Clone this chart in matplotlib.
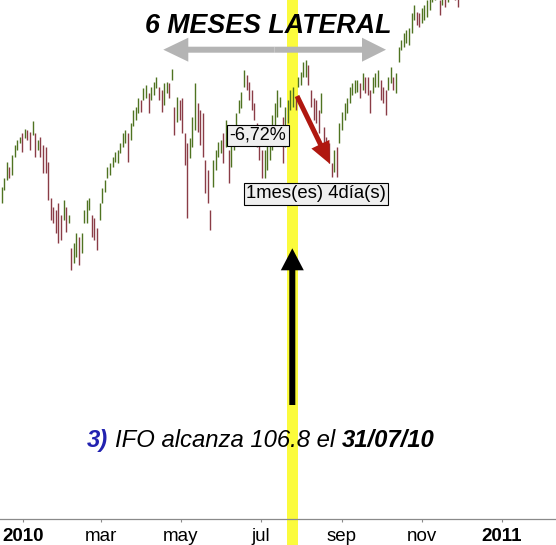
import matplotlib
matplotlib.use("Agg")
import matplotlib.pyplot as plt
from matplotlib.patches import FancyArrow
from matplotlib.transforms import Affine2D
import pandas as pd

W, H, DPI = 556, 545, 100

# bar ranges, mid-Dec 2009 to end of Nov 2010
highs = [
    5915, 5960, 6040, 6015, 6075, 6125, 6150, 6165, 6185, 6205,
    6200, 6190, 6245, 6185, 6150, 6165, 6125, 6115, 6040, 5860,
    5815, 5800, 5835, 5775, 5850, 5815, 5775, 5610, 5635, 5685,
    5665, 5685, 5800, 5850, 5860, 5775, 5760, 5710, 5835, 5910,
    5950, 6015, 6035, 6065, 6090, 6100, 6135, 6185, 6200, 6185,
    6235, 6300, 6315, 6360, 6350, 6410, 6425, 6385, 6415, 6440,
    6465, 6415, 6400, 6435, 6440, 6435, 6505, 6315, 6365, 6350,
    6360, 6185, 6135, 6160, 6265, 6435, 6335, 6300, 6285, 6050,
    6000, 5800, 6050, 6100, 6140, 6150, 6185, 6250, 6100, 6135,
    6185, 6285, 6350, 6390, 6500, 6475, 6440, 6400, 6335, 6235,
    6165, 6100, 6100, 6135, 6185, 6275, 6335, 6400, 6365, 6265,
    6315, 6350, 6400, 6415, 6365, 6465, 6490, 6540, 6550, 6525,
    6400, 6360, 6350, 6300, 6385, 6215, 6165, 6135, 6035, 6100,
    6115, 6235, 6290, 6335, 6360, 6415, 6435, 6450, 6450, 6435,
    6485, 6465, 6465, 6400, 6465, 6485, 6500, 6450, 6415, 6400,
    6465, 6515, 6465, 6485, 6615, 6650, 6685, 6700, 6710, 6785,
    6825, 6790, 6785, 6810, 6825, 6850, 6865, 6890, 6900, 6910,
    6850, 6875, 6865, 6890, 6910, 6910, 6900, 6880,
]
lows = [
    5835, 5900, 5950, 5960, 5975, 6065, 6100, 6135, 6090, 6160,
    6150, 6100, 6175, 6065, 6100, 6065, 5985, 5985, 5850, 5750,
    5735, 5685, 5635, 5650, 5750, 5690, 5735, 5500, 5535, 5565,
    5525, 5585, 5735, 5735, 5800, 5665, 5650, 5600, 5750, 5835,
    5890, 5960, 5975, 6015, 6040, 6035, 6085, 6115, 6135, 6040,
    6150, 6220, 6250, 6285, 6290, 6350, 6360, 6285, 6350, 6375,
    6410, 6350, 6290, 6325, 6385, 6360, 6450, 6175, 6240, 6250,
    6185, 6025, 5760, 6060, 6115, 6200, 6190, 6125, 6065, 5885,
    5835, 5700, 5915, 6000, 6065, 6085, 6035, 6115, 5935, 6015,
    6100, 6165, 6285, 6310, 6415, 6400, 6350, 6300, 6250, 6115,
    6050, 5960, 5960, 6000, 6050, 6100, 6150, 6265, 6315, 6035,
    6115, 6235, 6300, 6315, 6300, 6415, 6425, 6465, 6465, 6425,
    6315, 6250, 6235, 6185, 6285, 6115, 6085, 6035, 5965, 5990,
    5965, 6135, 6200, 6250, 6285, 6335, 6375, 6385, 6390, 6360,
    6400, 6385, 6375, 6285, 6385, 6415, 6415, 6350, 6335, 6275,
    6400, 6435, 6400, 6385, 6540, 6600, 6615, 6635, 6625, 6685,
    6750, 6725, 6715, 6735, 6750, 6765, 6800, 6840, 6850, 6860,
    6775, 6825, 6815, 6840, 6860, 6860, 6850, 6815,
]
dates = pd.date_range("2009-12-15 12:00", "2010-11-28 14:00", periods=len(highs))

tick_dates = ["2010-01-01", "2010-03-01", "2010-05-01", "2010-07-01",
              "2010-09-01", "2010-11-01", "2011-01-01"]
tick_labels = ["2010", "mar", "may", "jul", "sep", "nov", "2011"]

band_start, band_end = "2010-07-21 10:00", "2010-07-29 14:00"

UP = "#4f7321"
DOWN = "#8a3c46"

plt.rcParams["font.family"] = ["Liberation Sans", "DejaVu Sans"]

fig = plt.figure(figsize=(W / DPI, H / DPI), dpi=DPI, facecolor="white")
ax = fig.add_axes([0, (H - 519) / H, 1, 519 / H])
ax.set_facecolor("none")

mids = [(h + l) / 2 for h, l in zip(highs, lows)]
colors = [UP if i == 0 or mids[i] >= mids[i - 1] else DOWN for i in range(len(mids))]
ax.vlines(dates, lows, highs, colors=colors, linewidth=1.0, zorder=2)

ax.axvspan(pd.Timestamp(band_start), pd.Timestamp(band_end), ymin=-26 / 519, ymax=1,
           color="#fbfb3c", lw=0, clip_on=False, zorder=0)

ax.set_xlim(pd.Timestamp("2009-12-14 05:00"), pd.Timestamp("2011-02-11 10:00"))
ax.set_ylim(4255, 6850)

for s in ("top", "left", "right"):
    ax.spines[s].set_visible(False)
ax.spines["bottom"].set_color("#8a8a8a")
ax.spines["bottom"].set_linewidth(0.9)
ax.set_yticks([])
ax.set_xticks(pd.to_datetime(tick_dates))
ax.set_xticklabels(tick_labels)
ax.tick_params(axis="x", length=2.2, width=0.8, color="#8a8a8a", pad=4.3,
               labelsize=13.5, labelcolor="black")
for lbl in ax.get_xticklabels():
    if lbl.get_text().isdigit():
        lbl.set_fontweight("bold")

# annotations placed in image pixels (origin top-left)
px = Affine2D().scale(1 / DPI, -1 / DPI).translate(0, H / DPI) + fig.dpi_scale_trans


def arrow(x0, y0, x1, y1, color, width, head_w, head_l):
    a = FancyArrow(x0, y0, x1 - x0, y1 - y0, width=width, head_width=head_w,
                   head_length=head_l, length_includes_head=True, color=color,
                   lw=0, transform=px, zorder=5)
    fig.add_artist(a)


fig.text(268.3, 33.3, "6 MESES LATERAL", transform=px, ha="center", va="baseline",
         fontsize=19.3, fontweight="bold", fontstyle="italic", zorder=6)

arrow(274.5, 49.7, 163.3, 49.7, "#b4b4b4", 6, 24, 25)
arrow(274.5, 49.7, 386.0, 49.7, "#b4b4b4", 6, 24, 24)

arrow(292.3, 405, 292.3, 248.3, "black", 6, 23, 22)

arrow(297, 96, 330, 164, "#b0170f", 5, 20, 22)

box = dict(boxstyle="square,pad=0.12", fc="#efefef", ec="black", lw=0.8)
fig.text(258, 140, "-6,72%", transform=px, ha="center", va="baseline",
         fontsize=13, bbox=box, zorder=6)
fig.text(316, 198.3, "1mes(es) 4día(s)", transform=px, ha="center", va="baseline",
         fontsize=13.3, bbox=box, zorder=6)

# bottom caption built from three styled pieces
renderer = fig.canvas.get_renderer()
pieces = [("3)", "bold", "#2222b0"),
          ("IFO alcanza 106.8 el", "normal", "black"),
          ("31/07/10", "bold", "black")]
x = 87.3
for txt, weight, col in pieces:
    t = fig.text(x, 446.7, txt, transform=px, ha="left", va="baseline", fontsize=17.2,
                 fontstyle="italic", fontweight=weight, color=col, zorder=6)
    bb = t.get_window_extent(renderer)
    x = bb.x1 * 100 / fig.dpi + 6.5

fig.savefig("out.png", dpi=DPI, facecolor="white")
